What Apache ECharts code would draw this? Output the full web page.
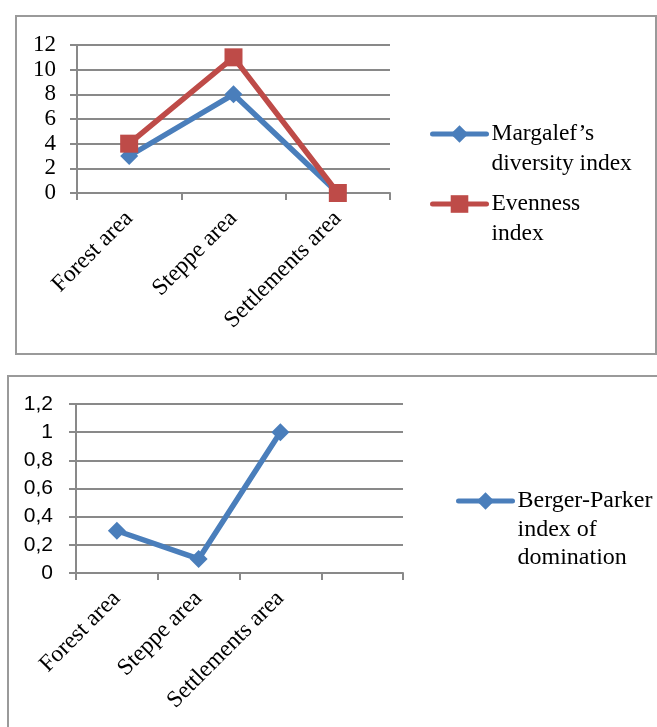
<!DOCTYPE html>
<html>
<head>
<meta charset="utf-8">
<script src="https://cdn.jsdelivr.net/npm/echarts@6/dist/echarts.min.js"></script>
<style>
  html, body { margin: 0; padding: 0; background: #fff; overflow: hidden; }
  body { width: 657px; height: 727px; position: relative; }
  .box { position: absolute; box-sizing: border-box; border: 2px solid #9a9a9a; background: #fff; }
  #chart1 { left: 15px; top: 15px; width: 642px; height: 340px; }
  #chart2 { left: 7px; top: 375px; width: 700px; height: 400px; }
</style>
</head>
<body>
<div id="chart1" class="box"></div>
<div id="chart2" class="box"></div>
<script>
// 数据
var areas = ['Forest area', 'Steppe area', 'Settlements area'];
var margalef = [3, 8, 0];
var evenness = [4, 11, 0];
var bergerParker = [0.3, 0.1, 1];
var yTicks1 = [0, 12, 2];      // min, max, interval
var yTicks2 = [0, 1.2, 0.2];

var gridColor = '#898989';
var blue = '#4a7ebb';
var red = '#be4b48';
var serif = '"Liberation Serif", "Times New Roman", serif';

function xAxisOf(data) {
  return {
    type: 'category',
    data: data,
    axisLine: { lineStyle: { color: gridColor, width: 2 } },
    axisTick: { show: true, interval: 0, length: 7, lineStyle: { color: gridColor, width: 2 } },
    axisLabel: { interval: 0, rotate: 45, margin: 22, color: '#000', fontFamily: serif, fontSize: 23.5 }
  };
}

function yAxisOf(t, font, size, margin, fmt) {
  return {
    type: 'value',
    min: t[0],
    max: t[1],
    interval: t[2],
    axisLine: { show: true, lineStyle: { color: gridColor, width: 2 } },
    axisTick: { show: true, length: 7, lineStyle: { color: gridColor, width: 2 } },
    splitLine: { lineStyle: { color: gridColor, width: 2 } },
    axisLabel: { margin: margin, color: '#000', fontFamily: font, fontSize: size, formatter: fmt }
  };
}

// 图例：图标对齐第一行文字
function legendOf(name, lines, left, top, lh, size, empty) {
  var pre = [];
  for (var i = 0; i < empty; i++) pre.push('{e| }');
  return {
    data: [name],
    left: left,
    top: top,
    padding: 0,
    orient: 'vertical',
    itemWidth: 54,
    itemHeight: 22,
    itemGap: 0,
    lineStyle: { width: 5, cap: 'round' },
    formatter: function () {
      return pre.concat(lines.map(function (l) { return '{t|' + l + '}'; })).join('\n');
    },
    textStyle: {
      rich: {
        e: { fontFamily: serif, fontSize: size, lineHeight: lh },
        t: { fontFamily: serif, fontSize: size, lineHeight: lh, color: '#000' }
      }
    }
  };
}

var chart1 = echarts.init(document.getElementById('chart1'));
var option1 = {
  animation: false,
  grid: { left: 60, top: 28, width: 313, height: 148 },
  legend: [
    legendOf('Margalef’s diversity index', ['Margalef’s', 'diversity index'], 413, 75, 30, 23.5, 1),
    legendOf('Evenness index', ['Evenness', 'index'], 413, 145, 30, 23.5, 1)
  ],
  xAxis: xAxisOf(areas),
  yAxis: yAxisOf(yTicks1, serif, 23, 21),
  series: [
    {
      name: 'Margalef’s diversity index',
      type: 'line',
      data: margalef,
      symbol: 'diamond',
      symbolSize: 18,
      itemStyle: { color: blue },
      lineStyle: { color: blue, width: 5.5 }
    },
    {
      name: 'Evenness index',
      type: 'line',
      data: evenness,
      symbol: 'rect',
      symbolSize: 18,
      itemStyle: { color: red },
      lineStyle: { color: red, width: 5.5 }
    }
  ]
};
option1 && chart1.setOption(option1);

var chart2 = echarts.init(document.getElementById('chart2'));
var option2 = {
  animation: false,
  grid: { left: 67, top: 27, width: 327, height: 169 },
  legend: [
    legendOf('Berger-Parker index of domination', ['Berger-Parker', 'index of', 'domination'], 447, 55, 28.5, 24, 2)
  ],
  xAxis: xAxisOf(areas.concat([''])),
  yAxis: yAxisOf(yTicks2, '"Liberation Sans", Arial, sans-serif', 21, 23, function (v) {
    return String(Math.round(v * 10) / 10).replace('.', ',');
  }),
  series: [
    {
      name: 'Berger-Parker index of domination',
      type: 'line',
      data: bergerParker,
      symbol: 'diamond',
      symbolSize: 18,
      itemStyle: { color: blue },
      lineStyle: { color: blue, width: 5.5 }
    }
  ]
};
option2 && chart2.setOption(option2);
</script>
</body>
</html>
